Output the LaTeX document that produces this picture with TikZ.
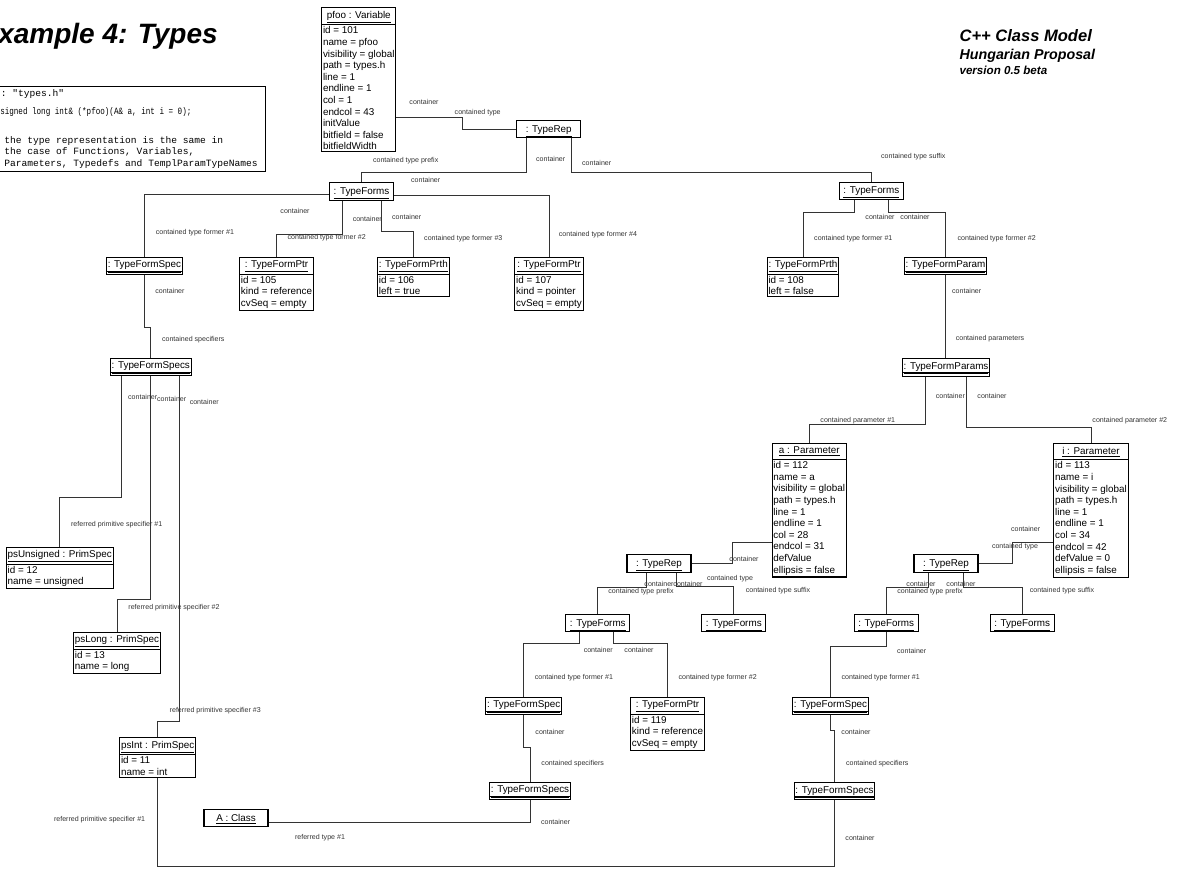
\documentclass[tikz,border=0pt]{standalone}
\usepackage{fontspec}
\setmainfont{Liberation Sans}
\setmonofont{Liberation Mono}
\newfontfamily\narrowmono{Liberation Mono}[FakeStretch=0.79]
\usetikzlibrary{shapes.multipart}

\tikzset{
  objname/.style={draw, line width=0.8pt, minimum width=48pt, minimum height=13pt,
    text height=7pt, text depth=2.6pt,
    inner xsep=1pt, inner ysep=1pt, anchor=north, font=\fontsize{7.4}{8.7}\selectfont},
  obj/.style={draw, line width=0.8pt, minimum width=48pt, inner xsep=1pt, inner ysep=1pt,
    anchor=north, font=\fontsize{7.4}{8.7}\selectfont,
    rectangle split, rectangle split parts=2,
    rectangle split part align={center,left}, align=left},
  emptyobj/.style={objname, minimum height=0pt, text depth=4pt,
    path picture={\draw[line width=0.8pt]
      ([yshift=2.6pt]path picture bounding box.south west) --
      ([yshift=2.6pt]path picture bounding box.south east);}},
  role/.style={font=\fontsize{5.3}{6}\selectfont, text=black!80, inner sep=0pt},
  conn/.style={line width=0.75pt, black!80},
  code/.style={anchor=base west, inner sep=0pt, font=\ttfamily\fontsize{7.2}{8.8}\selectfont},
  head/.style={inner sep=0pt, font=\bfseries\itshape}
}
\newcommand{\oname}[1]{\underline{#1}\rule[-3pt]{0pt}{9.5pt}}

\begin{document}
\begin{tikzpicture}[x=0.75pt,y=-0.75pt]
\useasboundingbox (0,0) rectangle (1185,869);
\clip (0,0) rectangle (1185,869);

% headings
\node[head, anchor=base east] (title) at (218,43) {\fontsize{21}{24}\selectfont Example 4: Types};
\node[head, anchor=base west] (model) at (959.3,41.7) {\fontsize{12.4}{14}\selectfont C++ Class Model};
\node[head, anchor=base west] (proposal) at (959.3,59.3) {\fontsize{10.7}{12}\selectfont Hungarian Proposal};
\node[head, anchor=base west] (version) at (959.3,74) {\fontsize{8.7}{10}\selectfont version 0.5 beta};

% source note
\draw[line width=0.8pt] (-5,86.7) rectangle (265.7,171.7);
\node[code] (src1) at (0.5,96.5) {: "types.h"};
\node[code] (src2) at (0,114.5) {\narrowmono signed long int\& (*pfoo)(A\& a, int i = 0);};
\node[code] (src3) at (4,143) {the type representation is the same in};
\node[code] (src4) at (4,154.7) {the case of Functions, Variables,};
\node[code] (src5) at (4,166) {Parameters, Typedefs and TemplParamTypeNames};

% objects
\node[obj] (pfoo) at (358.8,7.3) {\oname{pfoo : Variable}\nodepart{two}id = 101\\name = pfoo\\visibility = global\\path = types.h\\line = 1\\endline = 1\\col = 1\\endcol = 43\\initValue\\bitfield = false\\bitfieldWidth};
\node[objname] (tr0) at (548.7,120) {\oname{: TypeRep}};
\node[objname] (tf0) at (361.5,182.3) {\oname{: TypeForms}};
\node[objname] (tf1) at (871.3,181.7) {\oname{: TypeForms}};
\node[emptyobj] (tfs0) at (144.5,256.7) {\oname{: TypeFormSpec}};
\node[obj] (tfp0) at (276.5,256.7) {\oname{: TypeFormPtr}\nodepart{two}id = 105\\kind = reference\\cvSeq = empty};
\node[obj] (tfh0) at (413.3,256.7) {\oname{: TypeFormPrth}\nodepart{two}id = 106\\left = true};
\node[obj] (tfp1) at (549,256.7) {\oname{: TypeFormPtr}\nodepart{two}id = 107\\kind = pointer\\cvSeq = empty};
\node[obj] (tfh1) at (803,256.7) {\oname{: TypeFormPrth}\nodepart{two}id = 108\\left = false};
\node[emptyobj] (tfpar) at (945.5,256.7) {\oname{: TypeFormParam}};
\node[emptyobj] (tfpars) at (946,358.3) {\oname{: TypeFormParams}};
\node[emptyobj] (tfss0) at (150.8,357.7) {\oname{: TypeFormSpecs}};
\node[obj] (psU) at (59.7,546.7) {\oname{psUnsigned : PrimSpec}\nodepart{two}id = 12\\name = unsigned};
\node[obj] (psL) at (117,631.7) {\oname{psLong : PrimSpec}\nodepart{two}id = 13\\name = long};
\node[obj] (psI) at (157.7,737.3) {\oname{psInt : PrimSpec}\nodepart{two}id = 11\\name = int};
\node[objname] (aclass) at (236,809) {\oname{A : Class}};
\node[obj] (pa) at (809.2,442.7) {\oname{a : Parameter}\nodepart{two}id = 112\\name = a\\visibility = global\\path = types.h\\line = 1\\endline = 1\\col = 28\\endcol = 31\\defValue\\ellipsis = false};
\node[obj] (pi) at (1091,443) {\oname{i : Parameter}\nodepart{two}id = 113\\name = i\\visibility = global\\path = types.h\\line = 1\\endline = 1\\col = 34\\endcol = 42\\defValue = 0\\ellipsis = false};
\node[objname] (tr1) at (659,554.3) {\oname{: TypeRep}};
\node[objname] (tr2) at (946,554.3) {\oname{: TypeRep}};
\node[objname] (tf2) at (597.8,614) {\oname{: TypeForms}};
\node[objname] (tf3) at (733.8,614) {\oname{: TypeForms}};
\node[objname] (tf4) at (886.2,614) {\oname{: TypeForms}};
\node[objname] (tf5) at (1022.2,614) {\oname{: TypeForms}};
\node[emptyobj] (tfs1) at (523.7,696.7) {\oname{: TypeFormSpec}};
\node[obj] (tfp2) at (667.5,696.7) {\oname{: TypeFormPtr}\nodepart{two}id = 119\\kind = reference\\cvSeq = empty};
\node[emptyobj] (tfs2) at (830.5,696.7) {\oname{: TypeFormSpec}};
\node[emptyobj] (tfss1) at (530,781.7) {\oname{: TypeFormSpecs}};
\node[emptyobj] (tfss2) at (834.5,782) {\oname{: TypeFormSpecs}};

% links
\draw[conn] (pfoo.east |- 0,117) -- (462,117) |- (tr0.west);
\draw[conn] (tr0.south -| 526,0) |- (tf0.north |- 0,172) -- (tf0.north);
\draw[conn] (tr0.south -| 571,0) |- (tf1.north |- 0,172) -- (tf1.north);
\draw[conn] (tf0.west |- 0,194.5) -| (tfs0.north);
\draw[conn] (tf0.south -| 342,0) |- (tfp0.north |- 0,234) -- (tfp0.north);
\draw[conn] (tf0.south -| 381,0) |- (tfh0.north |- 0,231.7) -- (tfh0.north);
\draw[conn] (tf0.east |- 0,195) -| (tfp1.north);
\draw[conn] (tf1.south -| 854.3,0) |- (tfh1.north |- 0,212.7) -- (tfh1.north);
\draw[conn] (tf1.south -| 888.3,0) |- (tfpar.north |- 0,212.7) -- (tfpar.north);
\draw[conn] (tfpar.south) -- (tfpar.south |- tfpars.north);
\draw[conn] (tfpars.south -| 925.3,0) |- (pa.north |- 0,424.3) -- (pa.north);
\draw[conn] (tfpars.south -| 966.6,0) |- (pi.north |- 0,427) -- (pi.north);
\draw[conn] (tfs0.south) |- (tfss0.north |- 0,327.3) -- (tfss0.north);
\draw[conn] (tfss0.south -| 121.7,0) |- (psU.north |- 0,497.7) -- (psU.north);
\draw[conn] (tfss0.south -| 150.7,0) |- (psL.north |- 0,599) -- (psL.north);
\draw[conn] (tfss0.south -| 179,0) |- (psI.north |- 0,721) -- (psI.north);
\draw[conn] (psI.south) |- (tfss2.south |- 0,866) -- (tfss2.south);
\draw[conn] (aclass.east |- 0,822.3) -| (tfss1.south);
\draw[conn] (tr1.east |- 0,563) -- (732,563) |- (pa.west |- 0,542.3);
\draw[conn] (tr2.east |- 0,563) -- (1012,563) |- (pi.west |- 0,542.3);
\draw[conn] (tr1.south -| 646.5,0) |- (tf2.north |- 0,587) -- (tf2.north);
\draw[conn] (tr1.south -| 676.7,0) |- (tf3.north |- 0,586) -- (tf3.north);
\draw[conn] (tr2.south -| 928,0) |- (tf4.north |- 0,587) -- (tf4.north);
\draw[conn] (tr2.south -| 963,0) |- (tf5.north |- 0,587) -- (tf5.north);
\draw[conn] (tf2.south -| 579.3,0) |- (tfs1.north |- 0,643.3) -- (tfs1.north);
\draw[conn] (tf2.south -| 613.3,0) |- (tfp2.north |- 0,643.3) -- (tfp2.north);
\draw[conn] (tfs1.south) |- (tfss1.north |- 0,747.3) -- (tfss1.north);
\draw[conn] (tf4.south) |- (tfs2.north |- 0,646.7) -- (tfs2.north);
\draw[conn] (tfs2.south) |- (tfss2.north |- 0,730) -- (tfss2.north);

% role names
\node[role] (r1) at (424,101.7) {container};
\node[role] (r2) at (477.7,112.7) {contained type};
\node[role] (r3) at (550.7,158.7) {container};
\node[role] (r4) at (405.7,160.7) {contained type prefix};
\node[role] (r5) at (596.7,163) {container};
\node[role] (r6) at (913.3,156.7) {contained type suffix};
\node[role] (r7) at (425.7,180) {container};
\node[role] (r8) at (195,232.3) {contained type former \#1};
\node[role] (r9) at (295,210.7) {container};
\node[role] (r10) at (326.7,237.7) {contained type former \#2};
\node[role] (r11) at (367.3,219) {container};
\node[role] (r12) at (463.3,239) {contained type former \#3};
\node[role] (r13) at (406.7,216.7) {container};
\node[role] (r14) at (598,235) {contained type former \#4};
\node[role] (r15) at (880,217.3) {container};
\node[role] (r16) at (915,217.3) {container};
\node[role] (r17) at (853.3,238.3) {contained type former \#1};
\node[role] (r18) at (996.7,238.3) {contained type former \#2};
\node[role] (r19) at (966.7,290.7) {container};
\node[role] (r20) at (990,338.3) {contained parameters};
\node[role] (r21) at (950.4,396) {container};
\node[role] (r22) at (992,396) {container};
\node[role] (r23) at (857.8,421) {contained parameter \#1};
\node[role] (r24) at (1129.8,421) {contained parameter \#2};
\node[role] (r25) at (170,290.7) {container};
\node[role] (r26) at (193.3,339.3) {contained specifiers};
\node[role] (r27) at (142.7,396.7) {container};
\node[role] (r28) at (171.7,399) {container};
\node[role] (r29) at (204.3,401.7) {container};
\node[role] (r30) at (116.7,524.3) {referred primitive specifier \#1};
\node[role] (r31) at (174,607.3) {referred primitive specifier \#2};
\node[role] (r32) at (215.3,710.7) {referred primitive specifier \#3};
\node[role] (r33) at (99.6,819.3) {referred primitive specifier \#1};
\node[role] (r34) at (860,838.3) {container};
\node[role] (r35) at (320,837.7) {referred type \#1};
\node[role] (r36) at (555.6,821.7) {container};
\node[role] (r37) at (744,559) {container};
\node[role] (r38) at (730,579) {contained type};
\node[role] (r39) at (1025.6,528.7) {container};
\node[role] (r40) at (1015,547) {contained type};
\node[role] (r41) at (659,584) {container};
\node[role] (r42) at (688,584) {container};
\node[role] (r43) at (641,592) {contained type prefix};
\node[role] (r44) at (778,591) {contained type suffix};
\node[role] (r45) at (921,584) {container};
\node[role] (r46) at (961,584) {container};
\node[role] (r47) at (930,592) {contained type prefix};
\node[role] (r48) at (1062,591) {contained type suffix};
\node[role] (r49) at (598.3,650) {container};
\node[role] (r50) at (639,650) {container};
\node[role] (r51) at (574,677.7) {contained type former \#1};
\node[role] (r52) at (717.7,677.7) {contained type former \#2};
\node[role] (r53) at (550,731.7) {container};
\node[role] (r54) at (572.7,763.3) {contained specifiers};
\node[role] (r55) at (911.7,650.7) {container};
\node[role] (r56) at (880.7,677.7) {contained type former \#1};
\node[role] (r57) at (856,731.7) {container};
\node[role] (r58) at (877.3,763.3) {contained specifiers};
\end{tikzpicture}
\end{document}
